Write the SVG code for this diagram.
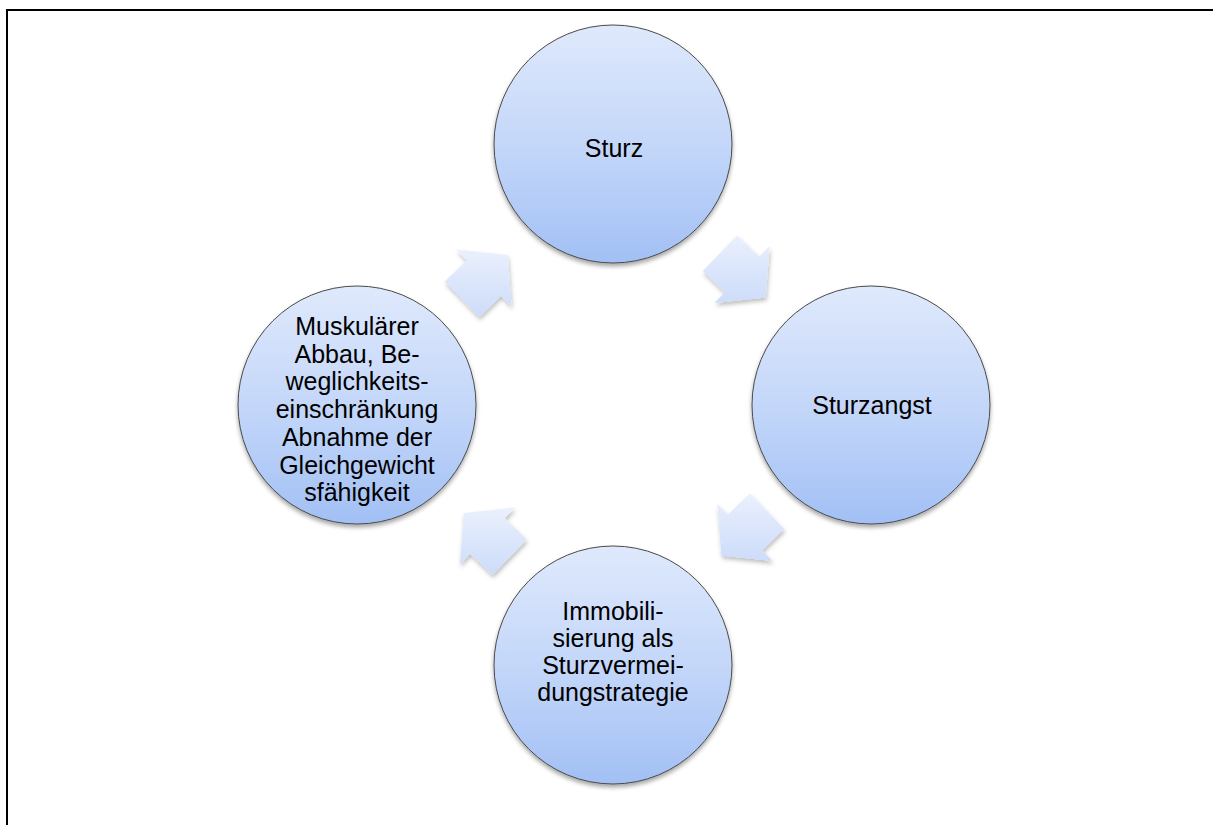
<svg xmlns="http://www.w3.org/2000/svg" width="1213" height="825" viewBox="0 0 1213 825">
<style>
.lbl{font-family:"Liberation Sans",Arial,sans-serif;font-size:25px;fill:#000;text-anchor:middle}
.circ{fill:url(#cg);stroke:#4a4a4a;stroke-width:1;filter:url(#sh)}
.arr{fill:url(#ag);filter:url(#sh2)}
</style>
<defs>
<linearGradient id="cg" x1="0" y1="0" x2="0" y2="1">
<stop offset="0" stop-color="#dfe9fc"/>
<stop offset="0.5" stop-color="#c4d7f9"/>
<stop offset="1" stop-color="#a2c0f5"/>
</linearGradient>
<linearGradient id="ag" x1="0" y1="0" x2="0" y2="1">
<stop offset="0" stop-color="#eaf0fd"/>
<stop offset="1" stop-color="#cddcfa"/>
</linearGradient>
<filter id="sh" x="-10%" y="-10%" width="120%" height="125%">
<feDropShadow dx="0" dy="3" stdDeviation="2" flood-color="#000" flood-opacity="0.35"/>
</filter>
<filter id="sh2" x="-20%" y="-20%" width="140%" height="150%">
<feDropShadow dx="1" dy="3" stdDeviation="2" flood-color="#000" flood-opacity="0.25"/>
</filter>
</defs>
<rect width="1213" height="825" fill="#fff"/>
<g id="frame" fill="#000">
<rect x="6" y="9" width="1207" height="2"/>
<rect x="6" y="9" width="2" height="816"/>
</g>
<g id="connectors">
<polygon class="arr" points="444.8,281.5 466.8,260.2 456.4,249.4 507.7,255.1 511.6,306.6 501.2,295.8 479.2,317.0"/>
<polygon class="arr" points="737.2,235.5 759.2,256.7 769.6,245.9 765.7,297.4 714.4,303.1 724.8,292.3 702.8,271.0"/>
<polygon class="arr" points="784.2,529.0 762.2,550.3 772.6,561.1 721.3,555.4 717.4,503.9 727.8,514.7 749.9,493.5"/>
<polygon class="arr" points="492.4,575.0 470.3,553.8 459.9,564.6 463.8,513.1 515.1,507.4 504.7,518.2 526.7,539.5"/>
</g>
<g id="n-sturz">
<circle class="circ" cx="613" cy="144" r="119"/>
<text class="lbl" x="614" y="157">Sturz</text>
</g>
<g id="n-sturzangst">
<circle class="circ" cx="871" cy="405" r="119"/>
<text class="lbl" x="872" y="414">Sturzangst</text>
</g>
<g id="n-immobilisierung">
<circle class="circ" cx="613" cy="665" r="119"/>
<text class="lbl" x="613" y="620">Immobili-</text>
<text class="lbl" x="613" y="647">sierung als</text>
<text class="lbl" x="613" y="674">Sturzvermei-</text>
<text class="lbl" x="613" y="701">dungstrategie</text>
</g>
<g id="n-muskulaer">
<circle class="circ" cx="357" cy="405" r="119"/>
<text class="lbl" x="357" y="335">Muskulärer</text>
<text class="lbl" x="357" y="362.7">Abbau, Be-</text>
<text class="lbl" x="357" y="390.4">weglichkeits-</text>
<text class="lbl" x="357" y="418.1">einschränkung</text>
<text class="lbl" x="357" y="445.8">Abnahme der</text>
<text class="lbl" x="357" y="473.5">Gleichgewicht</text>
<text class="lbl" x="357" y="501.2">sfähigkeit</text>
</g>
</svg>
